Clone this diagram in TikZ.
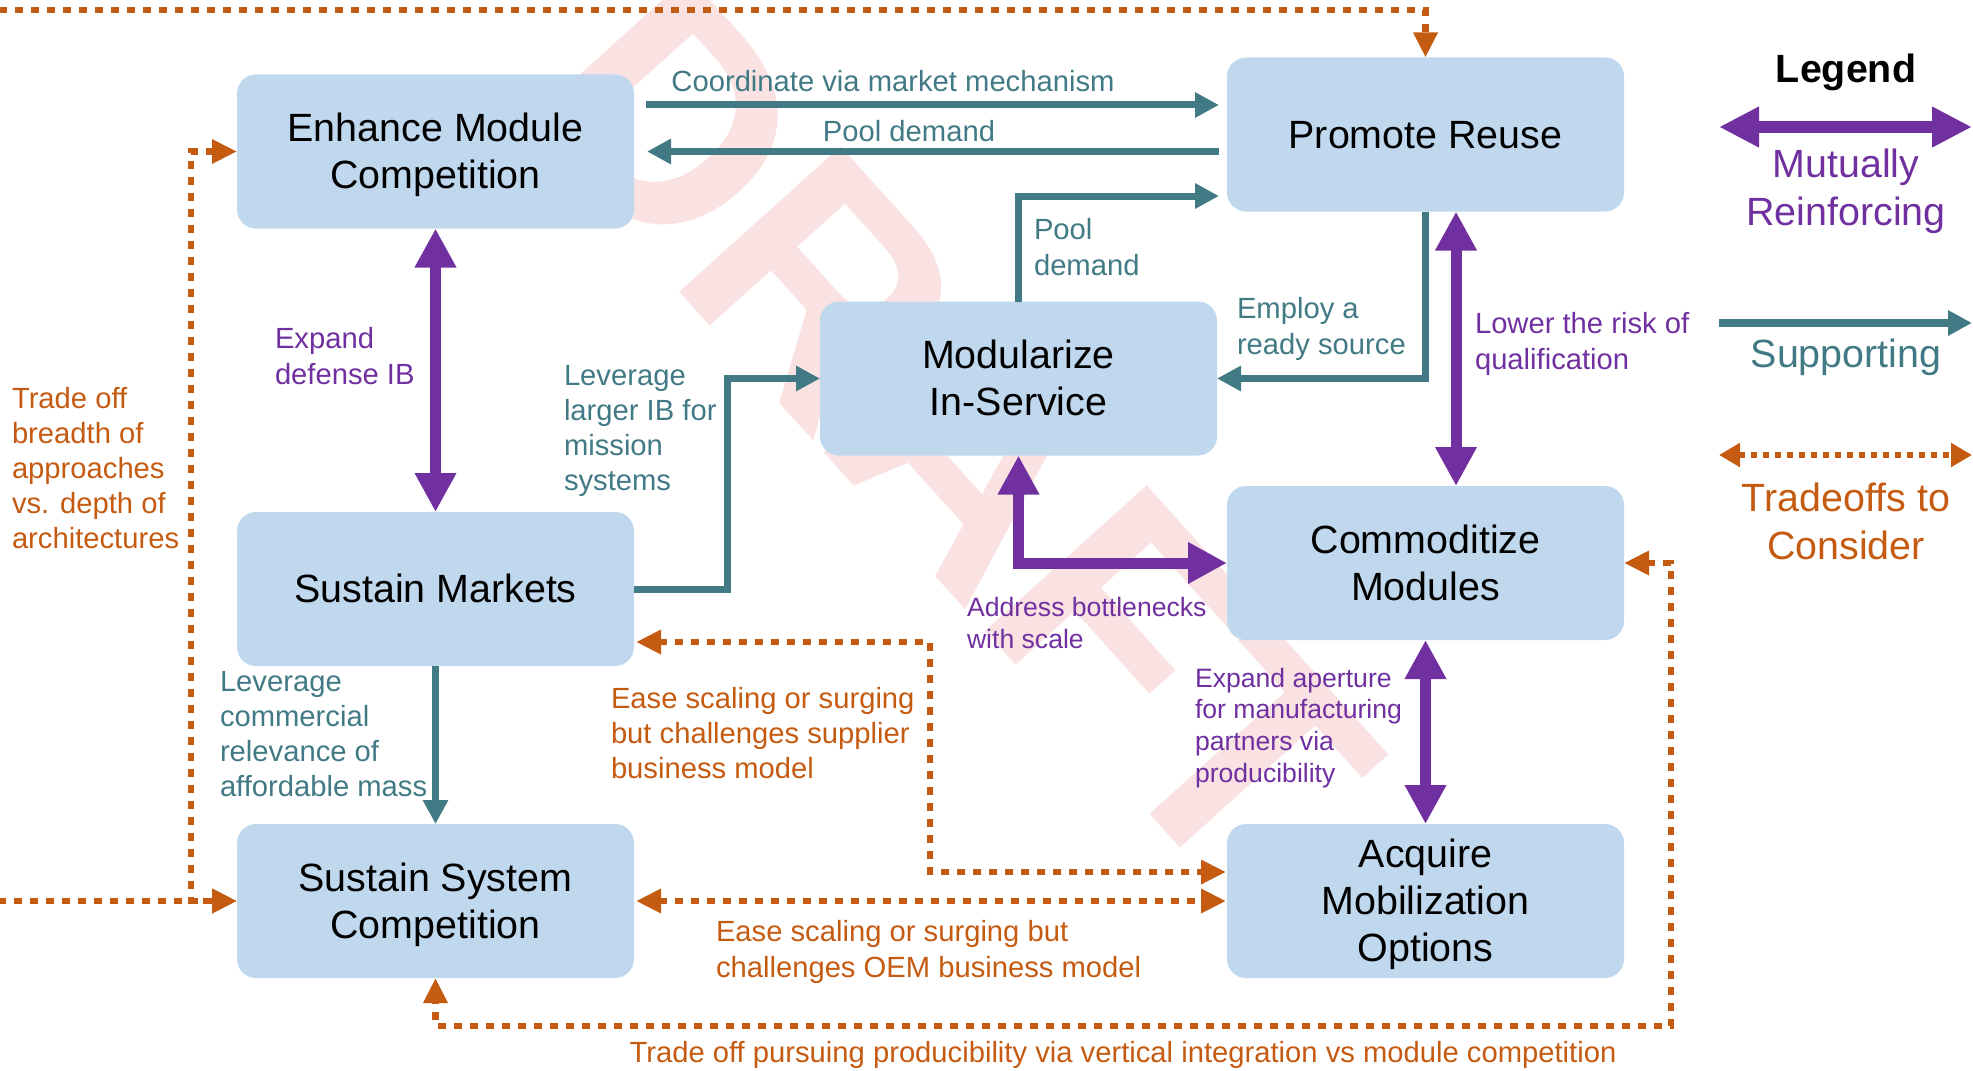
\documentclass[tikz,border=0pt]{standalone}
\usepackage{fontspec}
\setmainfont{Liberation Sans}
\usetikzlibrary{arrows.meta,calc}
\definecolor{boxfill}{RGB}{192,216,237}
\definecolor{tealc}{RGB}{65,122,132}
\definecolor{purp}{RGB}{112,48,160}
\definecolor{orng}{RGB}{197,90,17}
\definecolor{wmark}{RGB}{250,226,226}
\newcommand{\tst}{\rule{0pt}{18.5pt}}
\begin{document}
\begin{tikzpicture}[x=0.5pt,y=-0.5pt,
  box/.style={fill=boxfill, rounded corners=9.5pt, minimum width=198.5pt, minimum height=77pt,
    inner sep=0pt, outer sep=0pt, align=center, font=\fontsize{19.7}{23.5}\selectfont, text=black,
    execute at end node={\rule[-4.9pt]{0pt}{4.9pt}}},
  sup/.style={draw=tealc, line width=3.5pt, -{Triangle[length=12pt,width=12pt]}},
  mut/.style={draw=purp, line width=5.5pt, {Triangle[length=19.5pt,width=19.5pt]}-{Triangle[length=19.5pt,width=19.5pt]}},
  trd/.style={draw=orng, line width=3.25pt, dash pattern=on 4pt off 4pt,
    {Triangle[length=12.5pt,width=11.5pt]}-{Triangle[length=12.5pt,width=11.5pt]}},
  lbl/.style={align=left, inner sep=0pt, outer sep=0pt, anchor=west, font=\fontsize{14.6}{17.6}\selectfont},
  slbl/.style={align=left, inner sep=0pt, outer sep=0pt, anchor=west, font=\fontsize{13.3}{15.9}\selectfont},
  leg/.style={align=center, inner sep=0pt, outer sep=0pt, font=\fontsize{19.7}{24}\selectfont}
]
\useasboundingbox (0,0) rectangle (1973,1070);
% watermark
\node[text=wmark, rotate=-48, inner sep=0pt, font=\bfseries\fontsize{158}{158}\selectfont] (wm) at (952,432) {DRAFT};

% boxes
\node[box] (EMC) at (435.5,151.5) {\tst Enhance Module\\Competition};
\node[box] (PR)  at (1425.5,134.5) {\tst Promote Reuse};
\node[box] (MIS) at (1018.5,378.5) {\tst Modularize\\In-Service};
\node[box] (SM)  at (435.5,589) {\tst Sustain Markets};
\node[box] (CM)  at (1425.5,563) {\tst Commoditize\\Modules};
\node[box] (SSC) at (435.5,901) {\tst Sustain System\\Competition};
\node[box] (AMO) at (1425.5,901) {\tst Acquire\\Mobilization\\Options};

% helper coordinates
\coordinate (offB) at (-40,901);
\coordinate (offT) at (-40,10);
\coordinate (botY) at (0,1026);

% supporting connectors
\draw[sup] ($(EMC.east)+(12,-46.5)$) -- ($(PR.west)+(-8,-29.5)$);
\draw[sup] ($(PR.west)+(-8,17)$) -- ($(EMC.east)+(13,0)$);
\draw[sup] (MIS.north) |- ($(PR.west)+(-8,61.5)$);
\draw[sup] (PR.south) |- (MIS.east);
\draw[sup] (SM.east) -- ++(93,0) |- (MIS.west);
\draw[sup] (SM.south) -- (SSC.north);

% mutually reinforcing
\draw[mut] (EMC.south) -- (SM.north);
\draw[mut] ($(PR.south)+(30.5,0)$) -- ($(CM.north)+(30.5,0)$);
\draw[mut] (MIS.south) |- (CM.west);
\draw[mut] (CM.south) -- (AMO.north);

% tradeoffs
\draw[trd] (SSC.west) -- (offB) -- (offT) -- (PR.north |- offT) -- (PR.north);
\draw[trd] (EMC.west) -- ++(-46,0) |- (SSC.west);
\draw[trd] ($(SM.east)+(2,53)$) -- ++(294,0) |- ($(AMO.west)+(-1,-29)$);
\draw[trd] ($(SSC.east)+(2,0)$) -- ($(AMO.west)+(-1,0)$);
\draw[trd] (CM.east) -- ++(47,0) |- (SSC.south |- botY) -- (SSC.south);

% labels
\node[lbl, text=tealc, anchor=base] (l1) at (893,91) {Coordinate via market mechanism};
\node[lbl, text=tealc, anchor=base] (l2) at (909,141) {Pool demand};
\node[lbl, text=tealc] (l3) at (1034,247) {Pool\\demand};
\node[lbl, text=tealc] (l4) at (1237,329) {Employ a\\ready source};
\node[lbl, text=purp] (l5) at (1475,344) {Lower the risk of\\qualification};
\node[lbl, text=purp] (l6) at (275,356) {Expand\\defense IB};
\node[lbl, text=tealc] (l7) at (564,431) {Leverage\\larger IB for\\mission\\systems};
\node[slbl, text=purp] (l8) at (967,623) {Address bottlenecks\\with scale};
\node[lbl, text=tealc] (l9) at (220,734) {Leverage\\commercial\\relevance of\\affordable mass};
\node[slbl, text=purp] (l10) at (1195,728) {Expand aperture\\for manufacturing\\partners via\\producibility};
\node[lbl, text=orng] (l11) at (611,733) {Ease scaling or surging\\but challenges supplier\\business model};
\node[lbl, text=orng] (l12) at (716,952) {Ease scaling or surging but\\challenges OEM business model};
\node[lbl, text=orng, anchor=center] (l13) at (1123,1055) {Trade off pursuing producibility via vertical integration vs module competition};
\node[lbl, text=orng] (l14) at (12,468) {Trade off\\breadth of\\approaches\\vs. depth of\\architectures};

% legend
\node[leg, font=\bfseries\fontsize{19.7}{24}\selectfont] (legT) at (1846,72) {Legend};
\coordinate (lm1) at (1719,127); \coordinate (lm2) at (1972,127);
\draw[draw=purp, line width=6pt, {Triangle[length=20pt,width=19pt]}-{Triangle[length=20pt,width=19pt]}] (lm1) -- (lm2);
\node[leg, text=purp] (legM) at (1846,191) {Mutually\\Reinforcing};
\coordinate (ls1) at (1719,323); \coordinate (ls2) at (1972,323);
\draw[draw=tealc, line width=4pt, -{Triangle[length=12pt,width=12pt]}] (ls1) -- (ls2);
\node[leg, text=tealc] (legS) at (1846,357) {Supporting};
\coordinate (lt1) at (1719,455); \coordinate (lt2) at (1972,455);
\draw[draw=orng, line width=3pt, dash pattern=on 3pt off 3pt, {Triangle[length=10.5pt,width=11.5pt]}-{Triangle[length=10.5pt,width=11.5pt]}] (lt1) -- (lt2);
\node[leg, text=orng] (legC) at (1846,521) {Tradeoffs to\\Consider};
\end{tikzpicture}
\end{document}
